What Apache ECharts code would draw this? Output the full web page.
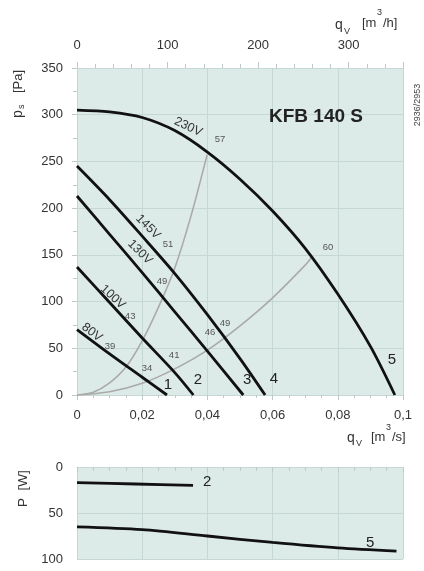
<!DOCTYPE html>
<html><head><meta charset="utf-8">
<script src="https://cdn.jsdelivr.net/npm/echarts/dist/echarts.min.js"></script>
<style>html,body{margin:0;padding:0;background:#fff}#c{width:424px;height:571px}</style>
</head><body><div id="c"></div>
<script>
// ---- data ----
// fan curves: [q m3/s, ps Pa]
const curve1 = [[0,70],[0.01,44],[0.02,19],[0.0276,0]];
const curve2 = [[0,137],[0.01,99],[0.02,61],[0.03,24],[0.0357,0]];
const curve3 = [[0,213],[0.01,172],[0.02,131],[0.03,89],[0.04,47],[0.051,0]];
const curve4 = [[0,245],[0.01,209],[0.02,170],[0.03,130],[0.04,86],[0.05,39],[0.0577,0]];
const curve5 = [[0,305],[0.01,303],[0.02,297],[0.03,283],[0.04,260],[0.05,231],[0.06,197],[0.07,157],[0.08,108],[0.09,52],[0.0975,0]];
// system curves (gray)
const sysSteep = [[0,0],[0.005,3],[0.01,13],[0.015,30],[0.02,58],[0.025,94],[0.03,136],[0.035,192],[0.0399,257]];
const sysFlat = [[0,0],[0.01,3.4],[0.02,12.5],[0.03,28],[0.04,48],[0.05,74],[0.06,104],[0.07,139],[0.0721,148]];
// power curves: [q m3/s, P W]
const power2 = [[0,17],[0.018,18.5],[0.0356,20]];
const power5 = [[0,65],[0.02,68],[0.04,75],[0.06,82],[0.08,88],[0.098,91.5]];
// axis ticks
const qTicks = {min:0, max:0.1, step:0.02};
const qhTicks = {min:0, max:360, step:100};
const psTicks = {min:0, max:350, step:50};
const pTicks = {min:0, max:100, step:50};
// annotations anchored in data coordinates
const voltLabels = [['230V',0.0341,287,25],['145V',0.0218,180,45],['130V',0.0193,153,45],['100V',0.011,105,43],['80V',0.0046,67,38]];
const pointLabels = [['57',0.0439,274],['51',0.0279,161],['49',0.0261,122],['43',0.0163,84],['39',0.0101,52],['34',0.0215,28],['41',0.0298,42],['46',0.0408,67],['49',0.0454,77],['60',0.077,158]];
const curveNums = [['1',0.0279,11],['2',0.0371,16],['3',0.0522,16],['4',0.0604,17],['5',0.0966,37.5]];
const powerNums = [['2',0.0399,16.3],['5',0.0899,82.6]];

const FONT = '"Liberation Sans", Arial, Helvetica, sans-serif';
const BG = '#dcebe8', GRIDC = '#c6d8d4', TICKC = '#bfc9c7', LBL = '#333';
const fmtComma = v => v === 0 ? '0' : String(+v.toFixed(3)).replace('.', ',');

const chart = echarts.init(document.getElementById('c'), null, {renderer:'canvas'});
const lbl = {fontSize:13, color:LBL, fontFamily:FONT};
function line(data, color, width, xi, yi, z){
  return {type:'line', data, xAxisIndex:xi, yAxisIndex:yi, smooth:0.3,
    showSymbol:false, symbol:'none', silent:true, z, lineStyle:{color, width}};
}
chart.setOption({
  animation:false,
  grid:[{left:77,right:21,top:68,height:327,show:true,backgroundColor:BG,borderWidth:0},
        {left:77,right:21,top:467,height:92,show:true,backgroundColor:BG,borderWidth:0}],
  xAxis:[
    {gridIndex:0,type:'value',min:qTicks.min,max:qTicks.max,interval:qTicks.step,position:'bottom',
     axisLine:{show:false},axisTick:{show:true,length:5,lineStyle:{color:TICKC}},
     minorTick:{show:true,splitNumber:4,length:3,lineStyle:{color:TICKC}},
     splitLine:{show:true,lineStyle:{color:GRIDC,width:1}},
     axisLabel:Object.assign({margin:14,formatter:fmtComma},lbl)},
    {gridIndex:0,type:'value',min:qhTicks.min,max:qhTicks.max,interval:qhTicks.step,position:'top',
     axisLine:{show:false},axisTick:{show:true,length:6,lineStyle:{color:TICKC}},
     minorTick:{show:true,splitNumber:5,length:4,lineStyle:{color:TICKC}},
     splitLine:{show:false},
     axisLabel:Object.assign({margin:16,showMaxLabel:false},lbl)},
    {gridIndex:1,type:'value',min:qTicks.min,max:qTicks.max,interval:qTicks.step,position:'top',
     axisLine:{show:false},axisTick:{show:true,inside:true,length:5,lineStyle:{color:TICKC}},
     minorTick:{show:true,splitNumber:4,length:4,lineStyle:{color:TICKC}},
     splitLine:{show:true,lineStyle:{color:GRIDC,width:1}},
     axisLabel:{show:false}}
  ],
  yAxis:[
    {gridIndex:0,type:'value',min:psTicks.min,max:psTicks.max,interval:psTicks.step,
     axisLine:{show:false},axisTick:{show:true,length:5,lineStyle:{color:TICKC}},
     minorTick:{show:true,splitNumber:2,length:4,lineStyle:{color:TICKC}},
     splitLine:{show:true,lineStyle:{color:GRIDC,width:1}},
     axisLabel:Object.assign({margin:14},lbl)},
    {gridIndex:1,type:'value',min:pTicks.min,max:pTicks.max,interval:pTicks.step,inverse:true,
     axisLine:{show:false},axisTick:{show:false},
     splitLine:{show:true,lineStyle:{color:GRIDC,width:1}},
     axisLabel:Object.assign({margin:14},lbl)}
  ],
  series:[
    line(sysSteep,'#aaaaaa',1.6,0,0,2),
    line(sysFlat,'#aaaaaa',1.6,0,0,2),
    line(curve1,'#111',2.8,0,0,3),
    line(curve2,'#111',2.8,0,0,3),
    line(curve3,'#111',2.8,0,0,3),
    line(curve4,'#111',2.8,0,0,3),
    line(curve5,'#111',2.8,0,0,3),
    line(power2,'#111',2.8,2,1,3),
    line(power5,'#111',2.8,2,1,3)
  ]
});

const px = (g, p) => chart.convertToPixel({gridIndex:g}, p);
const T = (x, y, text, o) => ({type:'text', x, y, rotation:(o.rot||0), silent:true, z:10,
  style:{text, fill:o.color||'#333', fontSize:o.size||13, fontFamily:FONT, fontWeight:o.weight||'normal',
         align:o.align||'center', verticalAlign:'middle'}});
const g = [];
voltLabels.forEach(([t,x,y,a]) => { const p = px(0,[x,y]); g.push(T(p[0],p[1],t,{size:12.5,rot:-a*Math.PI/180,color:'#333'})); });
pointLabels.forEach(([t,x,y]) => { const p = px(0,[x,y]); g.push(T(p[0],p[1],t,{size:9.5,color:'#555'})); });
curveNums.forEach(([t,x,y]) => { const p = px(0,[x,y]); g.push(T(p[0],p[1],t,{size:15,color:'#222'})); });
powerNums.forEach(([t,x,y]) => { const p = px(1,[x,y]); g.push(T(p[0],p[1],t,{size:15,color:'#222'})); });
// title
g.push(T(316,117,'KFB 140 S',{size:19,weight:'bold',color:'#222'}));
// drawing code
g.push(T(418,105,'2936/2953',{size:9,rot:Math.PI/2,color:'#444'}));
// top axis name q_V [m3/h]
g.push(T(335,25,'q',{size:14,align:'left'}));
g.push(T(344,32,'V',{size:9,align:'left'}));
g.push(T(362,23,'[m',{size:13,align:'left'}));
g.push(T(377,13,'3',{size:9,align:'left'}));
g.push(T(383,23,'/h]',{size:13,align:'left'}));
// bottom axis name q_V [m3/s]
g.push(T(347,438,'q',{size:14,align:'left'}));
g.push(T(356,444,'V',{size:9,align:'left'}));
g.push(T(371,437,'[m',{size:13,align:'left'}));
g.push(T(386,428,'3',{size:9,align:'left'}));
g.push(T(392,437,'/s]',{size:13,align:'left'}));
// y axis names (rotated)
g.push({type:'group', x:18, y:118, rotation:Math.PI/2, silent:true, children:[
  {type:'text', x:0, y:0, style:{text:'p', fontSize:14, fontFamily:FONT, fill:'#333', align:'left', verticalAlign:'middle'}},
  {type:'text', x:9, y:4, style:{text:'s', fontSize:9, fontFamily:FONT, fill:'#333', align:'left', verticalAlign:'middle'}},
  {type:'text', x:25, y:0, style:{text:'[Pa]', fontSize:13, fontFamily:FONT, fill:'#333', align:'left', verticalAlign:'middle'}}
]});
g.push({type:'group', x:23, y:507, rotation:Math.PI/2, silent:true, children:[
  {type:'text', x:0, y:0, style:{text:'P  [W]', fontSize:13.5, fontFamily:FONT, fill:'#333', align:'left', verticalAlign:'middle'}}
]});
chart.setOption({graphic:g});
</script></body></html>
